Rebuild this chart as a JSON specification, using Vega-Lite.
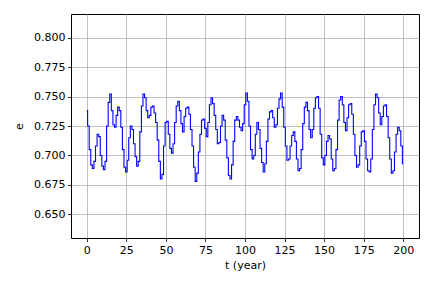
{
  "$schema": "https://vega.github.io/schema/vega-lite/v6.json",
  "width": 348,
  "height": 224,
  "autosize": {"type": "none"},
  "padding": {"left": 71, "top": 14, "right": 13, "bottom": 50},
  "background": "white",
  "config": {
    "font": "DejaVu Sans",
    "view": {"stroke": "black", "strokeWidth": 1},
    "axis": {
      "domain": false,
      "grid": true,
      "gridColor": "#b0b0b0",
      "gridWidth": 0.8,
      "tickColor": "black",
      "tickSize": 3.5,
      "tickWidth": 0.8,
      "labelColor": "black",
      "labelFontSize": 11,
      "labelPadding": 2.5,
      "titleColor": "black",
      "titleFontSize": 11,
      "titleFontWeight": "normal"
    }
  },
  "data": {"values": [
    {"t":0,"e":0.738},{"t":1,"e":0.725},{"t":2,"e":0.705},{"t":3,"e":0.692},{"t":4,"e":0.689},
    {"t":5,"e":0.695},{"t":6,"e":0.708},{"t":7,"e":0.718},{"t":8,"e":0.716},{"t":9,"e":0.700},
    {"t":10,"e":0.691},{"t":11,"e":0.688},{"t":12,"e":0.695},{"t":13,"e":0.725},{"t":14,"e":0.745},
    {"t":15,"e":0.752},{"t":16,"e":0.738},{"t":17,"e":0.726},{"t":18,"e":0.724},{"t":19,"e":0.734},
    {"t":20,"e":0.741},{"t":21,"e":0.738},{"t":22,"e":0.724},{"t":23,"e":0.705},{"t":24,"e":0.690},
    {"t":25,"e":0.686},{"t":26,"e":0.696},{"t":27,"e":0.715},{"t":28,"e":0.725},{"t":29,"e":0.722},
    {"t":30,"e":0.710},{"t":31,"e":0.699},{"t":32,"e":0.691},{"t":33,"e":0.695},{"t":34,"e":0.720},
    {"t":35,"e":0.742},{"t":36,"e":0.752},{"t":37,"e":0.749},{"t":38,"e":0.738},{"t":39,"e":0.732},
    {"t":40,"e":0.734},{"t":41,"e":0.741},{"t":42,"e":0.742},{"t":43,"e":0.736},{"t":44,"e":0.728},
    {"t":45,"e":0.713},{"t":46,"e":0.695},{"t":47,"e":0.680},{"t":48,"e":0.684},{"t":49,"e":0.708},
    {"t":50,"e":0.728},{"t":51,"e":0.729},{"t":52,"e":0.718},{"t":53,"e":0.706},{"t":54,"e":0.702},
    {"t":55,"e":0.710},{"t":56,"e":0.728},{"t":57,"e":0.742},{"t":58,"e":0.746},{"t":59,"e":0.738},
    {"t":60,"e":0.727},{"t":61,"e":0.720},{"t":62,"e":0.733},{"t":63,"e":0.740},{"t":64,"e":0.741},
    {"t":65,"e":0.735},{"t":66,"e":0.722},{"t":67,"e":0.708},{"t":68,"e":0.690},{"t":69,"e":0.678},
    {"t":70,"e":0.685},{"t":71,"e":0.703},{"t":72,"e":0.718},{"t":73,"e":0.730},{"t":74,"e":0.731},
    {"t":75,"e":0.723},{"t":76,"e":0.716},{"t":77,"e":0.728},{"t":78,"e":0.743},{"t":79,"e":0.749},
    {"t":80,"e":0.744},{"t":81,"e":0.734},{"t":82,"e":0.722},{"t":83,"e":0.710},{"t":84,"e":0.711},
    {"t":85,"e":0.725},{"t":86,"e":0.734},{"t":87,"e":0.730},{"t":88,"e":0.713},{"t":89,"e":0.698},
    {"t":90,"e":0.683},{"t":91,"e":0.680},{"t":92,"e":0.692},{"t":93,"e":0.712},{"t":94,"e":0.730},
    {"t":95,"e":0.733},{"t":96,"e":0.730},{"t":97,"e":0.724},{"t":98,"e":0.721},{"t":99,"e":0.727},
    {"t":100,"e":0.743},{"t":101,"e":0.753},{"t":102,"e":0.746},{"t":103,"e":0.725},{"t":104,"e":0.705},
    {"t":105,"e":0.697},{"t":106,"e":0.700},{"t":107,"e":0.718},{"t":108,"e":0.728},{"t":109,"e":0.722},
    {"t":110,"e":0.706},{"t":111,"e":0.694},{"t":112,"e":0.686},{"t":113,"e":0.693},{"t":114,"e":0.712},
    {"t":115,"e":0.731},{"t":116,"e":0.737},{"t":117,"e":0.738},{"t":118,"e":0.732},{"t":119,"e":0.724},
    {"t":120,"e":0.726},{"t":121,"e":0.740},{"t":122,"e":0.748},{"t":123,"e":0.753},{"t":124,"e":0.741},
    {"t":125,"e":0.724},{"t":126,"e":0.708},{"t":127,"e":0.696},{"t":128,"e":0.697},{"t":129,"e":0.708},
    {"t":130,"e":0.717},{"t":131,"e":0.720},{"t":132,"e":0.712},{"t":133,"e":0.697},{"t":134,"e":0.687},
    {"t":135,"e":0.689},{"t":136,"e":0.705},{"t":137,"e":0.727},{"t":138,"e":0.741},{"t":139,"e":0.745},
    {"t":140,"e":0.738},{"t":141,"e":0.722},{"t":142,"e":0.715},{"t":143,"e":0.722},{"t":144,"e":0.740},
    {"t":145,"e":0.749},{"t":146,"e":0.750},{"t":147,"e":0.740},{"t":148,"e":0.718},{"t":149,"e":0.698},
    {"t":150,"e":0.692},{"t":151,"e":0.700},{"t":152,"e":0.712},{"t":153,"e":0.717},{"t":154,"e":0.714},
    {"t":155,"e":0.697},{"t":156,"e":0.687},{"t":157,"e":0.689},{"t":158,"e":0.705},{"t":159,"e":0.730},
    {"t":160,"e":0.747},{"t":161,"e":0.750},{"t":162,"e":0.743},{"t":163,"e":0.728},{"t":164,"e":0.721},
    {"t":165,"e":0.732},{"t":166,"e":0.743},{"t":167,"e":0.744},{"t":168,"e":0.735},{"t":169,"e":0.718},
    {"t":170,"e":0.700},{"t":171,"e":0.690},{"t":172,"e":0.692},{"t":173,"e":0.708},{"t":174,"e":0.720},
    {"t":175,"e":0.721},{"t":176,"e":0.712},{"t":177,"e":0.697},{"t":178,"e":0.687},{"t":179,"e":0.686},
    {"t":180,"e":0.697},{"t":181,"e":0.722},{"t":182,"e":0.743},{"t":183,"e":0.752},{"t":184,"e":0.749},
    {"t":185,"e":0.736},{"t":186,"e":0.726},{"t":187,"e":0.733},{"t":188,"e":0.742},{"t":189,"e":0.743},
    {"t":190,"e":0.733},{"t":191,"e":0.715},{"t":192,"e":0.697},{"t":193,"e":0.685},{"t":194,"e":0.687},
    {"t":195,"e":0.703},{"t":196,"e":0.718},{"t":197,"e":0.724},{"t":198,"e":0.721},{"t":199,"e":0.708},
    {"t":200,"e":0.693}
  ]},
  "mark": {"type": "line", "interpolate": "step", "color": "#0000ff", "strokeWidth": 1.1, "clip": true},
  "encoding": {
    "x": {
      "field": "t", "type": "quantitative", "title": "t (year)",
      "scale": {"domain": [-10, 210], "nice": false, "zero": false},
      "axis": {"values": [0, 25, 50, 75, 100, 125, 150, 175, 200], "format": "d", "titlePadding": 4}
    },
    "y": {
      "field": "e", "type": "quantitative", "title": "e",
      "scale": {"domain": [0.63, 0.82], "nice": false, "zero": false},
      "axis": {"values": [0.65, 0.675, 0.7, 0.725, 0.75, 0.775, 0.8], "format": ".3f", "titlePadding": 9}
    }
  }
}
